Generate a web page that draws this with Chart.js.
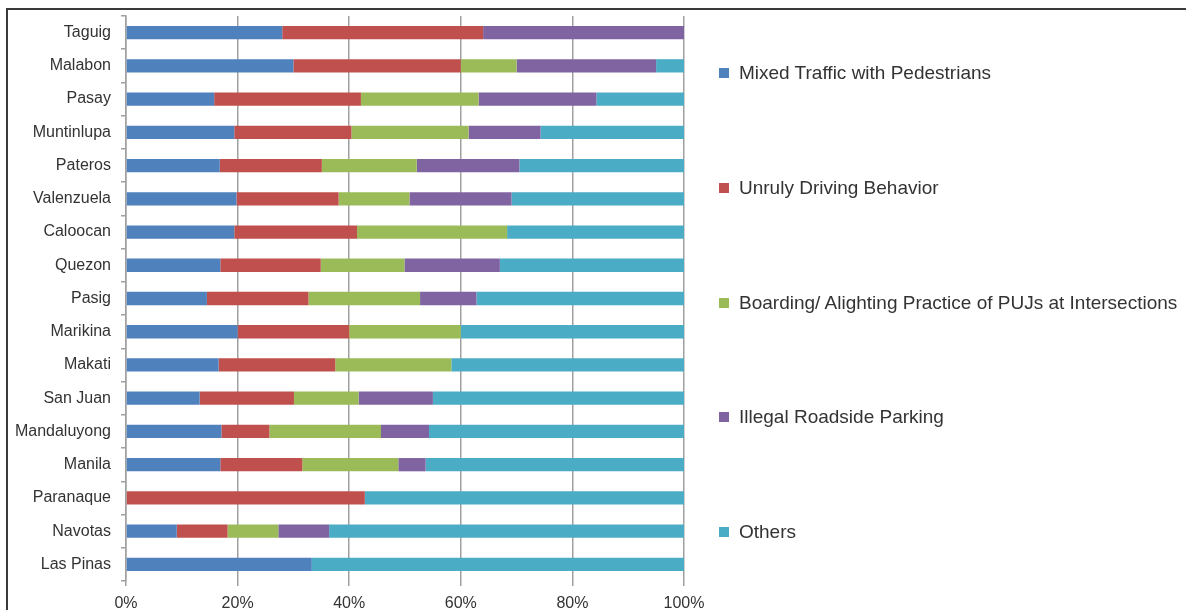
<!DOCTYPE html>
<html>
<head>
<meta charset="utf-8">
<title>Traffic problems at intersections by city</title>
<script src="https://cdn.jsdelivr.net/npm/chart.js@4"></script>
<style>
  html, body {
    margin: 0;
    padding: 0;
    background: #fff;
    width: 1186px;
    height: 610px;
    overflow: hidden;
  }
  #wrap {
    position: relative;
    width: 1186px;
    height: 610px;
  }
  #frame {
    position: absolute;
    left: 6px;
    top: 8px;
    width: 1200px;
    height: 620px;
    border-left: 2px solid #3a3a3a;
    border-top: 2px solid #3a3a3a;
    pointer-events: none;
  }
  #legend {
    position: absolute;
    left: 719px;
    top: 0;
    font-family: "Liberation Sans", Arial, sans-serif;
    font-size: 19px;
    color: #333;
  }
  .legend-item {
    position: absolute;
    left: 0;
    white-space: nowrap;
    display: flex;
    align-items: center;
    transform: translateY(-50%);
  }
  .legend-box {
    width: 10px;
    height: 10px;
    margin-right: 10px;
  }
</style>
</head>
<body>
<div id="wrap">
  <canvas id="chart" width="1186" height="610"></canvas>
  <div id="frame"></div>
  <div id="legend"></div>
</div>
<script>
// cities, top to bottom
const cities = [
  "Taguig", "Malabon", "Pasay", "Muntinlupa", "Pateros", "Valenzuela",
  "Caloocan", "Quezon", "Pasig", "Marikina", "Makati", "San Juan",
  "Mandaluyong", "Manila", "Paranaque", "Navotas", "Las Pinas"
];

// share of responses (%) per city
const mixedTraffic = [28, 30, 15.8, 19.4, 16.8, 19.8, 19.4, 16.9, 14.5, 20, 16.6, 13.2, 17.1, 16.9, 0, 9.1, 33.3];
const unrulyDriving = [36, 30, 26.3, 21, 18.3, 18.3, 22, 18, 18.2, 20, 20.9, 16.9, 8.6, 14.7, 42.8, 9.1, 0];
const boardingPractice = [0, 10, 21.1, 21, 17, 12.7, 26.9, 15, 20, 20, 20.8, 11.6, 20, 17.2, 0, 9.1, 0];
const roadsideParking = [36, 25, 21.1, 12.9, 18.4, 18.3, 0, 17.1, 10.1, 0, 0, 13.3, 8.6, 4.9, 0, 9.1, 0];
const others = [0, 5, 15.8, 25.7, 29.5, 30.9, 31.7, 33, 37.2, 40, 41.7, 45, 45.7, 46.3, 57.2, 63.6, 66.7];

const seriesNames = [
  "Mixed Traffic with Pedestrians",
  "Unruly Driving Behavior",
  "Boarding/ Alighting Practice of PUJs at Intersections",
  "Illegal Roadside Parking",
  "Others"
];
const seriesColors = ["#4f81bd", "#c0504d", "#9bbb59", "#8064a2", "#4bacc6"];
const seriesValues = [mixedTraffic, unrulyDriving, boardingPractice, roadsideParking, others];

const xTicks = [0, 20, 40, 60, 80, 100];

// vertical centre of each legend row
const legendRows = [73, 188, 303, 417, 532];

Chart.defaults.font.family = '"Liberation Sans", Arial, sans-serif';
Chart.defaults.color = "#333";

const axisGray = "#a0a0a0";

const chart = new Chart(document.getElementById("chart"), {
  type: "bar",
  data: {
    labels: cities,
    datasets: seriesNames.map((name, i) => ({
      label: name,
      data: seriesValues[i],
      backgroundColor: seriesColors[i],
      borderWidth: 0,
      barPercentage: 0.4,
      categoryPercentage: 1
    }))
  },
  options: {
    indexAxis: "y",
    responsive: false,
    animation: false,
    layout: {
      padding: { top: 16, right: 502, left: 0, bottom: 0 }
    },
    plugins: {
      legend: { display: false },
      tooltip: { enabled: false }
    },
    scales: {
      x: {
        stacked: true,
        min: 0,
        max: 100,
        afterBuildTicks: (scale) => {
          scale.ticks = xTicks.map((v) => ({ value: v }));
        },
        afterFit: (scale) => {
          scale.height = 29;
        },
        ticks: {
          font: { size: 16 },
          color: "#333",
          padding: 8,
          callback: (v) => v + "%"
        },
        grid: {
          color: axisGray,
          lineWidth: 1.5,
          tickLength: 5
        },
        border: { display: false }
      },
      y: {
        stacked: true,
        afterFit: (scale) => {
          // labels sit at band centres, so no overflow room is needed
          scale.width = 126;
          scale.paddingTop = 0;
          scale.paddingBottom = 0;
        },
        ticks: {
          font: { size: 16 },
          color: "#333",
          padding: 10
        },
        grid: {
          offset: true,
          drawOnChartArea: false,
          color: axisGray,
          lineWidth: 1.5,
          tickLength: 5
        },
        border: { display: true, color: axisGray, width: 1.5 }
      }
    }
  }
});

// legend built from the chart's datasets
const legend = document.getElementById("legend");
chart.data.datasets.forEach((ds, i) => {
  const item = document.createElement("div");
  item.className = "legend-item";
  item.style.top = legendRows[i] + "px";
  const box = document.createElement("span");
  box.className = "legend-box";
  box.style.background = ds.backgroundColor;
  const text = document.createElement("span");
  text.textContent = ds.label;
  item.appendChild(box);
  item.appendChild(text);
  legend.appendChild(item);
});
</script>
</body>
</html>
